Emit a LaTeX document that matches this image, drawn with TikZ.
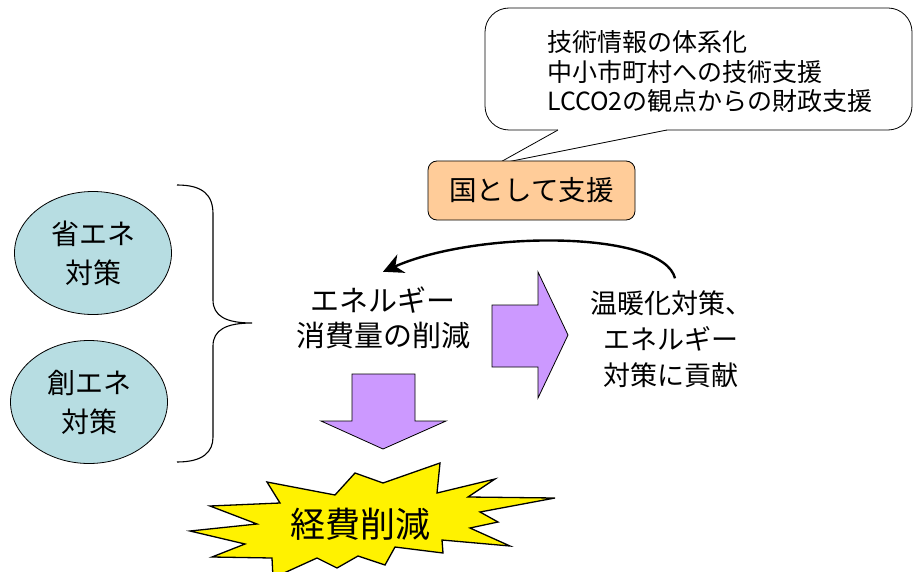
\documentclass[tikz,border=0pt]{standalone}
\usepackage{fontspec}
\setmainfont{Noto Sans CJK JP}
\usetikzlibrary{arrows.meta,positioning,shapes.geometric}

\definecolor{tealfill}{RGB}{183,221,226}
\definecolor{orangefill}{RGB}{255,204,153}
\definecolor{purplefill}{RGB}{204,153,255}
\newcommand{\jpsize}[2]{\fontsize{#1}{#2}\selectfont}

\begin{document}
\begin{tikzpicture}[
    x=1pt, y=-1pt,
    measure/.style={ellipse, draw=black, line width=0.8pt, fill=tealfill, minimum width=157pt, minimum height=123pt, align=center, inner sep=0pt, font=\jpsize{28}{39}},
    govbox/.style={rectangle, rounded corners=9pt, draw=black, line width=0.8pt, fill=orangefill, minimum width=207pt, minimum height=59pt, font=\jpsize{27.5}{33}},
    bubble/.style={rectangle, rounded corners=24pt, draw=black, line width=0.8pt, fill=white, minimum width=427pt, minimum height=122pt},
    plain/.style={align=center, inner sep=0pt},
    blockarrow/.style={draw=black, fill=purplefill, line width=0.8pt},
    >=Stealth
]
\useasboundingbox (0,0) rectangle (917,572);

% callout
\node[bubble] (bubble) at (698.5,69) {};
\coordinate (tip) at (497,164);
\fill[white] (558,127) -- (558,130) -- (tip) -- (667,130) -- (667,127) -- cycle;
\draw[line width=0.8pt] (558,130) -- (tip) -- (667,130);
\node[plain, align=left, anchor=west, font=\jpsize{25}{29.5}] (info) at (547,72) {技術情報の体系化\\中小市町村への技術支援\\LCCO2の観点からの財政支援};

\node[govbox] (gov) at (531.5,190.5) {国として支援};

% measures
\node[measure] (save) at (93,253) {省エネ\\対策};
\node[measure] (create) at (89,402) {創エネ\\対策};
\draw[line width=1.1pt] (177,185) .. controls (203,185) and (213,195) .. (213,214) -- (213,300)
    .. controls (213,316) and (226,323) .. (252,323) .. controls (226,323) and (213,330) .. (213,346)
    -- (213,437) .. controls (213,452) and (203,462) .. (177,462);

% results
\node[plain, font=\jpsize{29}{35}] (reduce) at (383,318) {エネルギー\\消費量の削減};
\node[plain, font=\jpsize{27}{36}] (contrib) at (671,339) {温暖化対策、\\エネルギー\\対策に貢献};

\draw[line width=2.4pt, -{Stealth[length=20pt,width=20pt]}] ([shift={(4pt,12pt)}]contrib.north)
    .. controls +(-12,-48) and +(95,-42) .. ([yshift=15pt]reduce.north);

\draw[blockarrow] (492,305) -- (538,305) -- (538,272) -- (568,335) -- (538,398) -- (538,367) -- (492,367) -- cycle;
\draw[blockarrow] (352,374) -- (415,374) -- (415,421) -- (446,421) -- (383,449) -- (321,421) -- (352,421) -- cycle;

% cost
\draw[line width=1.3pt, fill=yellow] (267,482) -- (335,495) -- (355,473) -- (383,483) -- (440,463) -- (437,493)
    -- (495,479) -- (468,497) -- (555,498) -- (480,512) -- (498,522) -- (470,528) -- (510,546) -- (442,540)
    -- (443,553) -- (395,547) -- (385,565) -- (358,556) -- (337,568) -- (317,558) -- (273,578) -- (272,558)
    -- (212,557) -- (245,544) -- (190,531) -- (257,524) -- (210,506) -- (280,503) -- cycle;
\node[plain, font=\jpsize{35}{40}] (cost) at (360,524) {経費削減};

\end{tikzpicture}
\end{document}
